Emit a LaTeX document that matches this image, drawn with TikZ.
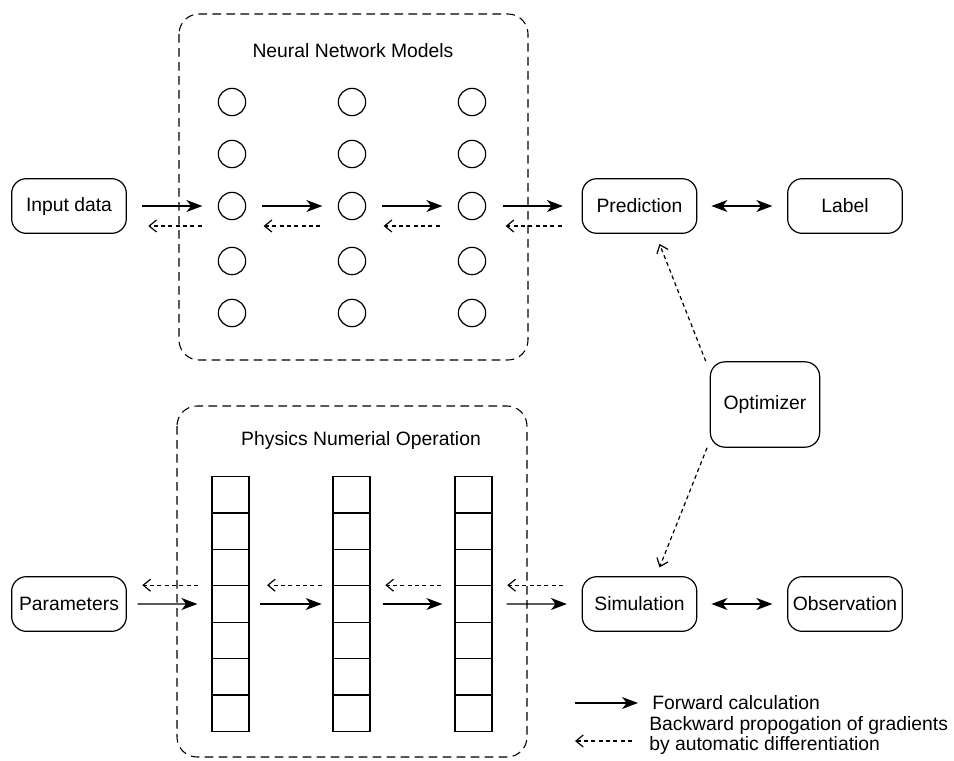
\documentclass[tikz,border=0pt]{standalone}
\usepackage{fontspec}
\setmainfont{Liberation Sans}
\usetikzlibrary{arrows.meta}

\tikzset{
  fwd/.style={-{Stealth[length=12pt,width=9pt,inset=3.5pt]},line width=1pt},
  dbl/.style={{Stealth[length=12pt,width=9pt,inset=3.5pt]}-{Stealth[length=12pt,width=9pt,inset=3.5pt]},line width=1pt},
  bwd/.style={-{Straight Barb[length=5.5pt,width=9pt,line width=0.9pt]},line width=0.9pt,dash pattern=on 3pt off 2.5pt},
  group/.style={line width=0.8pt,dash pattern=on 6.5pt off 4pt,rounded corners=15pt},
}

\begin{document}
\begin{tikzpicture}[x=0.75pt,y=-0.75pt,font=\fontsize{14.5}{15}\selectfont]
\useasboundingbox (0,0) rectangle (954,761);

% dashed frames
\draw[group] (179,14) rectangle (528,360);
\draw[group] (177,406) rectangle (527,757);
\node (T1) at (353,51) {Neural Network Models};
\node (T2) at (361,440) {Physics Numerial Operation};

\begin{scope}[every node/.style={draw,rounded corners=11pt,line width=0.9pt,
              minimum width=86pt,minimum height=41pt,inner sep=2pt}]
    \node (In) at (69,206) {Input data};
    \node (Pr) at (639.5,206) {Prediction};
    \node (Lb) at (845,206) {Label};
    \node (Pa) at (69,604) {Parameters};
    \node (Si) at (639.5,604) {Simulation};
    \node (Ob) at (845,604) {Observation};
    \node[minimum width=82pt,minimum height=64pt] (Op) at (765,404.5) {Optimizer};
\end{scope}

% neurons
\begin{scope}[every node/.style={circle,draw,line width=0.9pt,minimum size=20.5pt,inner sep=0pt}]
    \foreach \x [count=\i] in {232,352,472}
      \foreach \y [count=\j] in {102,154,206,261,313}
        \node (N\i\j) at (\x,\y) {};
\end{scope}

% cells
\begin{scope}[every node/.style={rectangle,draw,line width=0.9pt,minimum width=27.75pt,
              minimum height=27.3pt,inner sep=0pt}]
    \foreach \x [count=\i] in {230.5,351.5,473.5}
      \foreach \j in {1,...,7}
        \node (B\i\j) at (\x,{476.5+36.43*(\j-0.5)}) {};
\end{scope}

% forward
\draw[fwd,shorten <=11.5pt,shorten >=11.5pt] (In) -- (N13);
\draw[fwd,shorten <=12pt,shorten >=11.5pt] (N13) -- (N23);
\draw[fwd,shorten <=12pt,shorten >=11.5pt] (N23) -- (N33);
\draw[fwd,shorten <=12.5pt,shorten >=14pt] (N33) -- (Pr);
\draw[fwd,shorten <=8pt,shorten >=10.5pt] (Pa) -- (B14);
\draw[fwd,shorten <=8pt,shorten >=8pt] (B14) -- (B24);
\draw[fwd,shorten <=9pt,shorten >=9pt] (B24) -- (B34);
\draw[fwd,shorten <=10.5pt,shorten >=11pt] (B34) -- (Si);
\draw[dbl,shorten <=10.5pt,shorten >=11pt] (Pr) -- (Lb);
\draw[dbl,shorten <=10.5pt,shorten >=11pt] (Si) -- (Ob);

% backward
\draw[bwd,shorten <=12pt,shorten >=16pt] ([yshift=-15pt]N13.west) -- ([yshift=-15pt]N13.west -| In.east);
\draw[bwd,shorten <=13pt,shorten >=13pt] ([yshift=-15pt]N23.west) -- ([yshift=-15pt]N23.west -| N13.east);
\draw[bwd,shorten <=13.5pt,shorten >=13pt] ([yshift=-15pt]N33.west) -- ([yshift=-15pt]N33.west -| N23.east);
\draw[bwd,shorten <=15pt,shorten >=14.5pt] ([yshift=-15pt]N33.east -| Pr.west) -- ([yshift=-15pt]N33.east);
\draw[bwd,shorten <=10pt,shorten >=11.5pt] (B14.north west) -- (B14.north west -| Pa.east);
\draw[bwd,shorten <=8pt,shorten >=13pt] (B24.north west) -- (B14.north east);
\draw[bwd,shorten <=10pt,shorten >=11pt] (B34.north west) -- (B24.north east);
\draw[bwd,shorten <=14pt,shorten >=11pt] (B34.north east -| Si.west) -- (B34.north east);
\draw[bwd] ([xshift=-3pt]Op.north west) -- ([xshift=15pt,yshift=-7.5pt]Pr.south);
\draw[bwd] ([xshift=-2pt]Op.south west) -- ([xshift=15pt,yshift=6.5pt]Si.north);

% legend
\node[anchor=west,inner sep=0pt] (L1) at (652,703) {Forward calculation};
\node[anchor=west,inner sep=0pt,align=left] (L2) at (649,735) {Backward propogation of gradients\\by automatic differentiation};
\draw[fwd] ([xshift=-57.75pt]L1.west) -- ([xshift=-10.5pt]L1.west);
\draw[bwd] ([xshift=-12.75pt,yshift=-4.5pt]L2.west) -- ([xshift=-55.5pt,yshift=-4.5pt]L2.west);
\end{tikzpicture}
\end{document}
